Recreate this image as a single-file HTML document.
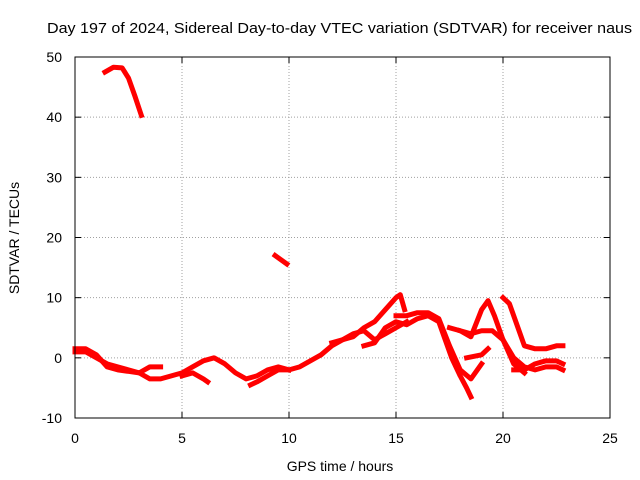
<!DOCTYPE html>
<html><head><meta charset="utf-8"><style>
body{margin:0;background:#fff;}
svg{display:block;font-family:"Liberation Sans",sans-serif;}
</style></head><body>
<svg id="c" width="640" height="480">
<text x="47" y="33" font-size="15" textLength="585" lengthAdjust="spacingAndGlyphs">Day 197 of 2024, Sidereal Day-to-day VTEC variation (SDTVAR) for receiver naus</text>
<text x="340" y="471" font-size="14" text-anchor="middle">GPS time / hours</text>
<text transform="translate(19,238) rotate(-90)" font-size="14" text-anchor="middle">SDTVAR / TECUs</text>
<g id="grid"></g><g id="ticks"></g><g id="series"></g>
<rect x="75" y="57" width="535" height="361" fill="none" stroke="#000" stroke-width="1"/>
</svg>
<script>
const xTicks=[0,5,10,15,20,25];
const yTicks=[-10,0,10,20,30,40,50];
const track1=[[1.4,47.5],[1.8,48.3],[2.2,48.2],[2.5,46.5],[2.8,43.5],[3.1,40.3]];
const track2=[[9.35,17],[9.9,15.6]];
const track3=[[0,1],[0.5,1],[1,0],[1.5,-1],[2,-1.5],[2.5,-2],[3,-2.5],[3.5,-3.5],[4,-3.5],[4.5,-3],[5,-2.5],[5.5,-1.5],[6,-0.5],[6.5,0],[7,-1],[7.5,-2.5],[8,-3.5],[8.5,-3],[9,-2],[9.5,-1.5],[10,-2]];
const track4=[[0,1.5],[0.5,1.5],[1,0.5],[1.5,-1.5],[2,-2],[3,-2.5],[3.5,-1.5],[4,-1.5]];
const track5=[[5,-3],[5.5,-2.5],[6,-3.5],[6.2,-4]];
const track6=[[8.2,-4.5],[8.5,-4],[9,-3],[9.5,-2],[10,-2],[10.5,-1.5],[11,-0.5],[11.5,0.5],[12,2],[12.5,3],[13,4],[13.5,4.5],[14,3],[14.5,4],[15,5],[15.5,6]];
const track7=[[12,2.5],[13,3.5],[13.5,5],[14,6],[14.5,8],[15,10],[15.2,10.5],[15.4,8]];
const track8=[[13.5,2],[14,2.5],[14.5,5],[15,6],[15.5,5.5],[16,6.5],[16.5,7],[17,6],[17.3,3],[17.6,0],[18,-3],[18.3,-5],[18.5,-6.5]];
const track9=[[15,7],[15.5,7],[16,7.5],[16.5,7.5],[17,6.5],[17.5,2],[18,-2],[18.5,-3.5],[19,-1]];
const track10=[[17.5,5],[18,4.5],[18.5,3.5],[19,8],[19.3,9.5],[19.6,7],[20,3],[20.5,-1],[21,-2.5]];
const track11=[[18,4.5],[18.5,4],[19,4.5],[19.5,4.5],[20,3],[20.5,0],[21,-1.5],[21.5,-2],[22,-1.5],[22.5,-1.5],[22.8,-2]];
const track12=[[18.3,0],[19,0.5],[19.3,1.5]];
const track13=[[20,10],[20.3,9],[20.7,5],[21,2],[21.5,1.5],[22,1.5],[22.5,2],[22.8,2]];
const track14=[[20.5,-2],[21,-2],[21.5,-1],[22,-0.5],[22.5,-0.5],[22.8,-1]];
const tracks=[track1,track2,track3,track4,track5,track6,track7,track8,track9,track10,track11,track12,track13,track14];
const NS="http://www.w3.org/2000/svg";
const X=v=>75+v*(535/25);
const Y=v=>418-(v+10)*(361/60);
function mk(tag,attrs,parent){const e=document.createElementNS(NS,tag);for(const k in attrs)e.setAttribute(k,attrs[k]);document.getElementById(parent).appendChild(e);return e;}
xTicks.forEach(t=>{
  if(t>0&&t<25){const g=mk('line',{x1:X(t),x2:X(t),y1:57,y2:418,stroke:'#a0a0a0','stroke-dasharray':'1,2'},'grid');
  
  }
  const a=mk('line',{x1:X(t),x2:X(t),y1:418,y2:412,stroke:'#000'},'ticks');
  
  
  const b=mk('line',{x1:X(t),x2:X(t),y1:57,y2:63,stroke:'#000'},'ticks');
  
  
  const l=mk('text',{x:X(t),y:443,'font-size':14,'text-anchor':'middle'},'ticks');l.textContent=t;
  
  
});
yTicks.forEach(t=>{
  if(t>-10&&t<50){const g=mk('line',{x1:75,x2:610,y1:Y(t),y2:Y(t),stroke:'#a0a0a0','stroke-dasharray':'1,2'},'grid');
  
  }
  const a=mk('line',{x1:75,x2:81,y1:Y(t),y2:Y(t),stroke:'#000'},'ticks');
  
  
  const b=mk('line',{x1:604,x2:610,y1:Y(t),y2:Y(t),stroke:'#000'},'ticks');
  
  
  const l=mk('text',{x:62,y:Y(t)+5,'font-size':14,'text-anchor':'end'},'ticks');l.textContent=t;
  
  
});
tracks.forEach((tr,i)=>{
  const p=mk('polyline',{points:tr.map(d=>X(d[0])+','+Y(d[1])).join(' '),fill:'none',stroke:'#ff0000','stroke-width':5,'stroke-linejoin':'round','stroke-linecap':'square'},'series');
  
  
});
</script>
</body></html>
